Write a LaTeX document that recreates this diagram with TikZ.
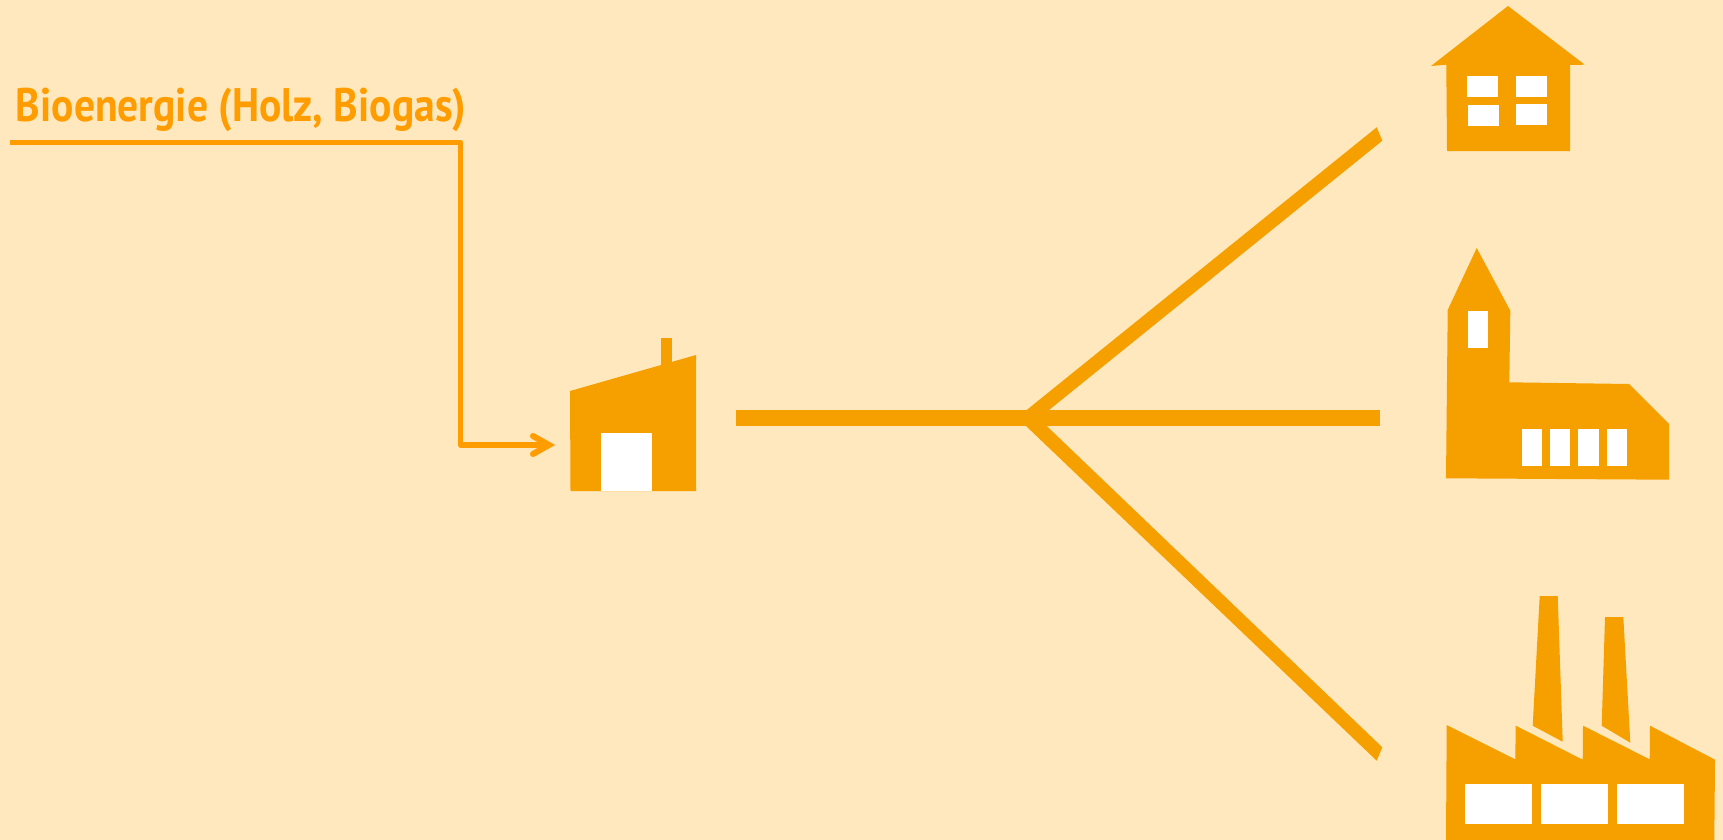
\documentclass[tikz,border=0pt]{standalone}
\usepackage{graphicx}
\usepackage{fontspec}
\setmainfont{PT Sans}
\definecolor{bgc}{HTML}{FFE8BD}
\definecolor{shapec}{HTML}{F6A000}
\definecolor{linec}{HTML}{FF9D00}
\tikzset{
  icon/.style={fill=shapec,draw=none},
  win/.style={fill=white,draw=none},
  feedline/.style={draw=linec,line width=2.7pt,line join=round},
  feedhead/.style={draw=linec,line width=3pt,line cap=round,line join=miter},
  netline/.style={draw=shapec,line width=8pt},
  lbl/.style={text=linec,font=\bfseries\fontsize{23.5}{27}\selectfont,inner sep=0pt,anchor=base west}
}
\begin{document}
\begin{tikzpicture}[x=0.5pt,y=-0.5pt]
\useasboundingbox (0,0) rectangle (1723,840);
\fill[bgc] (0,0) rectangle (1723,840);
% label
\node[lbl] (label) at (15.5,121.7) {\scalebox{0.885}[1]{Bioenergie (Holz, Biogas)}};
% connector coordinates
\coordinate (src) at (10,142.5);
\coordinate (bend1) at (460.5,142.5);
\coordinate (bend2) at (460.5,445);
\coordinate (tip) at (549,445);
\coordinate (headA) at (533,436);
\coordinate (headB) at (533,454);
\draw[feedline] (src) -- (bend1) -- (bend2) -- (tip);
\draw[feedhead] (headA) -- (tip) -- (headB);
% plant
\fill[icon] (661,338) rectangle (672,366);
\fill[icon] (570,391) -- (696,355) -- (696,491) -- (570.5,491) -- cycle;
\fill[win] (601,433) rectangle (652,491);
% network
\coordinate (netstart) at (736,418);
\coordinate (endB) at (1380,418);
\fill[icon] (1026.7,410) -- (1376.7,127.3) -- (1382.3,140.7) -- (1049,410) -- (1049,426) -- (1026.7,426) -- cycle;
\fill[icon] (1026,426) -- (1376.7,760.7) -- (1382.3,747.3) -- (1046.7,426) -- (1046.7,410) -- (1026,410) -- cycle;
\draw[netline] (netstart) -- (endB);
% house
\fill[icon] (1508,6) -- (1584.7,64.7) -- (1570,65) -- (1570,151) -- (1447,151) -- (1446.3,64.7) -- (1431,66) -- cycle;
\fill[win] (1467.3,76) rectangle (1498.3,96.7);
\fill[win] (1516.3,76) rectangle (1547.3,96.7);
\fill[win] (1467.7,104.7) rectangle (1498.7,125.7);
\fill[win] (1516.3,104.3) rectangle (1547.3,125);
% church
\fill[icon] (1476.7,248) -- (1510.3,310.7) -- (1509.3,382.3) -- (1629,384) -- (1669,424) -- (1669,479.7) -- (1446,478.3) -- (1447.7,310) -- cycle;
\fill[win] (1467.7,310.7) rectangle (1488.3,347.7);
\fill[win] (1521.7,429) rectangle (1542,465.7);
\fill[win] (1550,429) rectangle (1570.3,465.7);
\fill[win] (1578.3,429) rectangle (1598.7,465.7);
\fill[win] (1606.7,429) rectangle (1627.3,465.7);
% factory
\fill[icon] (1539.7,596) -- (1557.7,596) -- (1562.7,741.7) -- (1532.7,725.7) -- cycle;
\fill[icon] (1605,617) -- (1623.3,617) -- (1630.3,742.7) -- (1601.7,725.7) -- cycle;
\fill[icon] (1446.7,725) -- (1515.3,759.3) -- (1515.7,725.7) -- (1582.7,759.7) -- (1583,725.7) -- (1649.7,759.3) -- (1650,725.7) -- (1715,759.7) -- (1714.3,840) -- (1446,840) -- cycle;
\fill[win] (1464.7,784.3) rectangle (1532,823.7);
\fill[win] (1540.7,784.3) rectangle (1608.3,823.7);
\fill[win] (1617,784.3) rectangle (1684.3,823.7);
\end{tikzpicture}
\end{document}
